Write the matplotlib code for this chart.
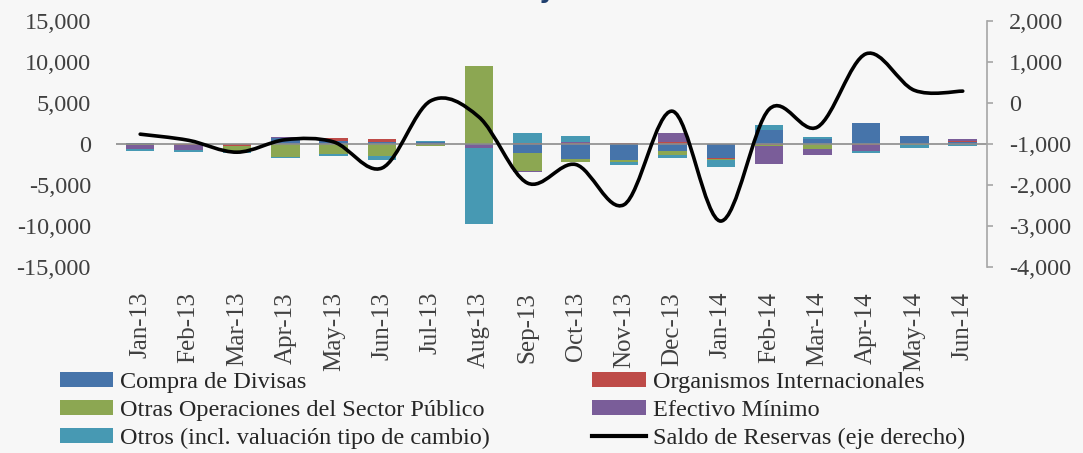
import numpy as np
import matplotlib
matplotlib.use("Agg")
import matplotlib.pyplot as plt
from matplotlib.path import Path
from matplotlib.patches import PathPatch, Patch
from matplotlib.lines import Line2D
from matplotlib.ticker import FuncFormatter

# months on the x axis
months = ['Jan-13', 'Feb-13', 'Mar-13', 'Apr-13', 'May-13', 'Jun-13',
          'Jul-13', 'Aug-13', 'Sep-13', 'Oct-13', 'Nov-13', 'Dec-13',
          'Jan-14', 'Feb-14', 'Mar-14', 'Apr-14', 'May-14', 'Jun-14']

# stacked components (left axis)
compra = [100, 0, 0, 700, 400, 300, 200, -100, -1150, -1850, -2000, -900,
          -1650, 1700, 600, 2600, 1000, 300]
organismos = [0, -100, -200, 0, 300, 250, 0, 0, 100, 100, 150, 300,
              -150, -100, -50, -100, 0, 50]
otras_sp = [-100, 0, -600, -1600, -1200, -1450, -200, 9500, -2200, -350, -200, -450,
            -100, -150, -600, 0, -100, 0]
efectivo = [-500, -600, 0, 100, 0, 0, -50, -400, -100, 200, 0, 1000,
            0, -2200, -700, -800, 0, 200]
otros = [-300, -300, -300, -150, -300, -530, 200, -9300, 1300, 700, -400, -350,
         -950, 650, 300, -150, -350, -200]

# reserve balance change (right axis)
saldo = [-760, -910, -1200, -895, -950, -1585, 50, -340, -1950, -1500, -2480, -200,
         -2880, -150, -585, 1200, 310, 290]

series = [
    ('Compra de Divisas', compra, '#4674aa'),
    ('Organismos Internacionales', organismos, '#be4b48'),
    ('Otras Operaciones del Sector Público', otras_sp, '#8ca752'),
    ('Efectivo Mínimo', efectivo, '#7a5d99'),
    ('Otros (incl. valuación tipo de cambio)', otros, '#4799b3'),
]
line_label = 'Saldo de Reservas (eje derecho)'

plt.rcParams['font.family'] = ['Liberation Serif', 'DejaVu Serif']
bg = '#f7f7f7'
txt = '#404040'

fig = plt.figure(figsize=(10.83, 4.53), dpi=100, facecolor=bg)
ax = fig.add_axes([0.1071, 0.4106, 0.8042, 0.5430])
ax.set_facecolor('none')
ax2 = ax.twinx()

x = np.arange(len(months))
pos_base = np.zeros(len(months))
neg_base = np.zeros(len(months))
for name, vals, col in series:
    v = np.array(vals, dtype=float)
    bottom = np.where(v >= 0, pos_base, neg_base)
    ax.bar(x, v, bottom=bottom, width=0.59, color=col, linewidth=0, zorder=2)
    pos_base = pos_base + np.clip(v, 0, None)
    neg_base = neg_base + np.clip(v, None, 0)

ax.axhline(0, color='#8c8c8c', lw=1.2, zorder=3)

ax.set_xlim(-0.5, len(months) - 0.5)
ax.set_ylim(-15000, 15000)
ax.set_yticks(np.arange(-15000, 15001, 5000))
ax.yaxis.set_major_formatter(FuncFormatter(lambda v, p: f'{v:,.0f}'))
ax.set_xticks(x)
ax.set_xticklabels(months, rotation=90)
ax.tick_params(axis='x', length=0, pad=18, labelsize=18, colors=txt)
ax.tick_params(axis='y', length=0, pad=18, labelsize=17.5, colors=txt)
for s in ax.spines.values():
    s.set_visible(False)

# smoothed line (Excel style) drawn as cubic Bezier segments through the data
ys = np.array(saldo, dtype=float)
n = len(ys)
verts = [(x[0], ys[0])]
codes = [Path.MOVETO]
for i in range(n - 1):
    x0, y0 = x[max(i - 1, 0)], ys[max(i - 1, 0)]
    x1, y1 = x[i], ys[i]
    x2, y2 = x[i + 1], ys[i + 1]
    x3, y3 = x[min(i + 2, n - 1)], ys[min(i + 2, n - 1)]
    verts += [(x1 + (x2 - x0) / 6, y1 + (y2 - y0) / 6),
              (x2 - (x3 - x1) / 6, y2 - (y3 - y1) / 6),
              (x2, y2)]
    codes += [Path.CURVE4] * 3
ax2.add_patch(PathPatch(Path(verts, codes), facecolor='none', edgecolor='black',
                        lw=2.6, capstyle='round', zorder=4))

ax2.set_ylim(-4000, 2000)
ax2.set_yticks(np.arange(-4000, 2001, 1000))
ax2.yaxis.set_major_formatter(FuncFormatter(lambda v, p: f'{v:,.0f}'))
ax2.tick_params(axis='y', direction='out', length=4, width=1.2, color='#a6a6a6',
                pad=12, labelsize=17.5, colors=txt)
ax2.tick_params(axis='y', color='#a6a6a6')
for k, s in ax2.spines.items():
    s.set_visible(k == 'right')
ax2.spines['right'].set_color('#a6a6a6')
ax2.spines['right'].set_linewidth(1.2)

# legend, two columns below the chart
handles = {name: Patch(facecolor=col, edgecolor='none') for name, _, col in series}
order = ['Compra de Divisas', 'Otras Operaciones del Sector Público',
         'Otros (incl. valuación tipo de cambio)', 'Organismos Internacionales',
         'Efectivo Mínimo']
hs = [handles[k] for k in order[:3]] + [handles[k] for k in order[3:]] + \
     [Line2D([0], [0], color='black', lw=3)]
labels = order + [line_label]
fig.legend(hs, labels, ncol=2, loc='upper left', bbox_to_anchor=(0.055, 0.178),
           frameon=False, fontsize=17.5, handlelength=2.2, handleheight=0.55,
           handletextpad=0.3, columnspacing=4.2, labelspacing=0.28,
           borderpad=0, borderaxespad=0, labelcolor='#262626')

# top of the cut-off title
fig.text(0.505, 1.004, 'y', ha='center', va='baseline', fontsize=18,
         fontweight='bold', color='#1f3f6e', family='DejaVu Sans')

fig.savefig('out.png', dpi=100, facecolor=bg)
